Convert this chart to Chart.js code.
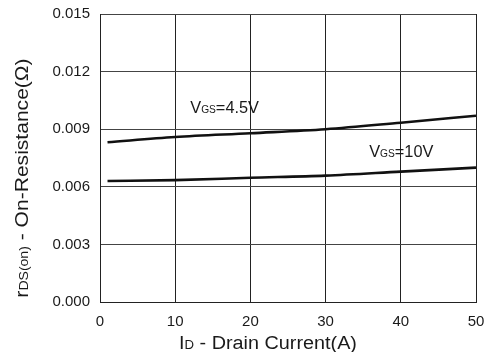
<!DOCTYPE html>
<html>
<head>
<meta charset="utf-8">
<script src="https://cdn.jsdelivr.net/npm/chart.js@4"></script>
<style>
  html, body { margin: 0; padding: 0; background: #fff; }
  #wrap { width: 487px; height: 352px; }
</style>
</head>
<body>
<div id="wrap"><canvas id="c" width="487" height="352"></canvas></div>
<script>
// Drain current (A) sample points
const currents = [1, 10, 20, 30, 40, 50];
// On-resistance (ohm) at VGS = 4.5 V and VGS = 10 V
const rdsVgs45 = [0.00832, 0.00859, 0.00879, 0.00900, 0.00934, 0.00970];
const rdsVgs10 = [0.00630, 0.00635, 0.00647, 0.00658, 0.00679, 0.00700];
// Axis ticks
const xTicks = [0, 10, 20, 30, 40, 50];
const yTicks = [0, 0.003, 0.006, 0.009, 0.012, 0.015];
// Curve labels: [main, subscript, tail, x (A), y (ohm)]
const curveLabels = [
  ['V', 'GS', '=4.5V', 12.0, 0.0101],
  ['V', 'GS', '=10V', 35.8, 0.0078]
];

const FONT = '"Liberation Sans", Arial, sans-serif';

// Draws a run of text pieces with mixed sizes; sx stretches it horizontally
function drawRich(ctx, parts, x, y, align, sx) {
  sx = sx || 1;
  let total = 0;
  parts.forEach(p => { ctx.font = p[1] + 'px ' + FONT; total += ctx.measureText(p[0]).width; });
  ctx.save();
  ctx.translate(x, y);
  ctx.scale(sx, 1);
  let cx = align === 'center' ? -total / 2 : 0;
  parts.forEach(p => {
    ctx.font = p[1] + 'px ' + FONT;
    ctx.fillText(p[0], cx, 0);
    cx += ctx.measureText(p[0]).width;
  });
  ctx.restore();
}

const textPlugin = {
  id: 'textPlugin',
  afterDraw(chart) {
    const ctx = chart.ctx;
    const xs = chart.scales.x, ys = chart.scales.y;
    ctx.save();
    ctx.fillStyle = '#1a1a1a';
    ctx.textBaseline = 'alphabetic';
    ctx.textAlign = 'left';
    // curve labels
    curveLabels.forEach(l => {
      const px = xs.getPixelForValue(l[3]);
      const py = ys.getPixelForValue(l[4]) + 5;
      drawRich(ctx, [[l[0], 16], [l[1], 10], [l[2], 16]], px, py, 'left', 1.02);
    });
    // x axis title
    drawRich(ctx, [['I', 18], ['D', 12], [' - Drain Current(A)', 18]], 268, 349, 'center', 1.1);
    // y axis title
    ctx.translate(28, 178);
    ctx.rotate(-Math.PI / 2);
    drawRich(ctx, [['r', 18], ['DS(on)', 12], [' - On-Resistance(', 18], ['\u03A9', 18], [')', 18]], 0, 0, 'center', 1.17);
    ctx.restore();
  }
};

new Chart(document.getElementById('c'), {
  type: 'line',
  data: {
    datasets: [
      { label: 'VGS=4.5V', data: currents.map((x, i) => ({ x, y: rdsVgs45[i] })) },
      { label: 'VGS=10V', data: currents.map((x, i) => ({ x, y: rdsVgs10[i] })) }
    ]
  },
  options: {
    responsive: false,
    animation: false,
    devicePixelRatio: 1,
    layout: { padding: { left: 0, right: 11, top: 14, bottom: 0 } },
    elements: {
      line: { borderColor: '#111', borderWidth: 2.6, tension: 0.4, cubicInterpolationMode: 'monotone' },
      point: { radius: 0 }
    },
    plugins: { legend: { display: false }, tooltip: { enabled: false } },
    scales: {
      x: {
        type: 'linear', min: 0, max: 50,
        afterBuildTicks: s => { s.ticks = xTicks.map(v => ({ value: v })); },
        afterFit: s => { s.height = 50; s.paddingLeft = 0; s.paddingRight = 0; },
        grid: { color: '#222', lineWidth: 1, drawTicks: false },
        border: { color: '#222', width: 1 },
        ticks: { padding: 11, color: '#1a1a1a', font: { family: FONT, size: 15 } }
      },
      y: {
        type: 'linear', min: 0, max: 0.015,
        afterBuildTicks: s => { s.ticks = yTicks.map(v => ({ value: v })); },
        afterFit: s => { s.width = 100; s.paddingTop = 0; s.paddingBottom = 0; },
        grid: { color: '#444', lineWidth: 1, drawTicks: false },
        border: { color: '#222', width: 1 },
        ticks: { padding: 10, color: '#1a1a1a', font: { family: FONT, size: 15 }, callback: v => v.toFixed(3) }
      }
    }
  },
  plugins: [textPlugin]
});
</script>
</body>
</html>
